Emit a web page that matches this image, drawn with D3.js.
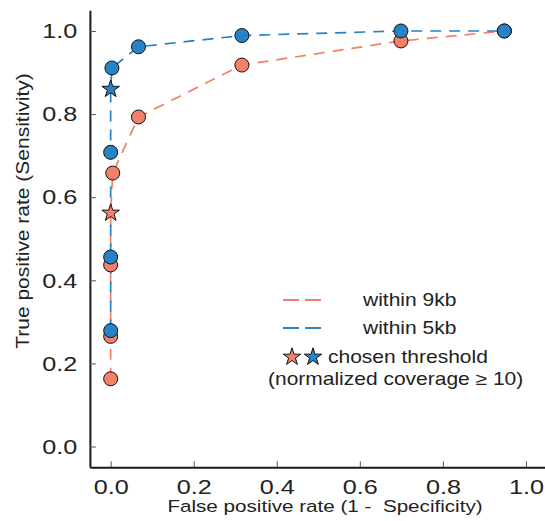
<!DOCTYPE html>
<html>
<head>
  <meta charset="utf-8">
  <title>ROC curves</title>
  <script src="https://d3js.org/d3.v7.min.js"></script>
  <style>
    body { margin: 0; background: #fff; }
    text { font-family: "Liberation Sans", Arial, sans-serif; fill: #222; }
  </style>
</head>
<body>
  <div id="chart"></div>
  <script>
// ROC points
const fpr9kb = [0, 0, 0, 0, 0.005, 0.067, 0.316, 0.699, 0.948];
const tpr9kb = [0.163, 0.265, 0.437, 0.562, 0.658, 0.793, 0.918, 0.976, 1.0];
const fpr5kb = [0, 0, 0, 0, 0.003, 0.067, 0.316, 0.699, 0.948];
const tpr5kb = [0.279, 0.456, 0.708, 0.860, 0.911, 0.962, 0.989, 1.0, 1.0];
// index of the chosen threshold in each series (drawn as a star)
const chosen9kb = 3;
const chosen5kb = 3;

const ticks = [0, 0.2, 0.4, 0.6, 0.8, 1.0];
const legendLabels = ["within 9kb", "within 5kb"];
const starLabel = ["chosen threshold", "(normalized coverage \u2265 10)"];

const red = "#f47f6b";
const blue = "#2782c6";

const width = 545, height = 521;

const x = d3.scaleLinear().domain([-0.05, 1.05]).range([89.9, 546.7]);
const y = d3.scaleLinear().domain([-0.05, 1.05]).range([467.3, 10.2]);

const svg = d3.select("#chart").append("svg")
  .attr("width", width)
  .attr("height", height);

// axes, ticks pointing inward
const xAxis = svg.append("g")
  .attr("transform", `translate(0,${y(-0.05)})`)
  .call(d3.axisBottom(x).tickValues(ticks).tickFormat(d3.format(".1f"))
    .tickSizeInner(-6).tickSizeOuter(0).tickPadding(12));

const yAxis = svg.append("g")
  .attr("transform", `translate(${x(-0.05)},0)`)
  .call(d3.axisLeft(y).tickValues(ticks).tickFormat(d3.format(".1f"))
    .tickSizeInner(-6).tickSizeOuter(0).tickPadding(10.5));

[xAxis, yAxis].forEach(g => {
  g.select(".domain").attr("stroke", "#1a1a1a").attr("stroke-width", 2);
  g.selectAll(".tick line").attr("stroke", "#555").attr("stroke-width", 1);
  g.selectAll(".tick text")
    .attr("font-size", 21)
    .attr("font-family", null)
    .attr("fill", "#222")
    .attr("transform", "scale(1.2,1)");
});

// axis titles
svg.append("text")
  .attr("transform", "translate(325,511.5) scale(1.2,1)")
  .attr("text-anchor", "middle")
  .attr("font-size", 17.2)
  .style("white-space", "pre")
  .text("False positive rate (1 -  Specificity)");

svg.append("text")
  .attr("transform", "translate(28.5,211) rotate(-90) scale(1.2,1)")
  .attr("text-anchor", "middle")
  .attr("font-size", 17.5)
  .text("True positive rate (Sensitivity)");

const series = [
  { fpr: fpr9kb, tpr: tpr9kb, chosen: chosen9kb, color: red },
  { fpr: fpr5kb, tpr: tpr5kb, chosen: chosen5kb, color: blue }
];

const line = d3.line().x(d => x(d[0])).y(d => y(d[1]));
const star = d3.symbol().type(d3.symbolStar).size(95);

// dashed curves first
series.forEach(s => {
  const pts = s.fpr.map((f, i) => [f, s.tpr[i]]);
  svg.append("path")
    .datum(pts)
    .attr("d", line)
    .attr("fill", "none")
    .attr("stroke", s.color)
    .attr("stroke-width", 1.7)
    .attr("stroke-dasharray", "11,8");
});

// markers
series.forEach(s => {
  const pts = s.fpr.map((f, i) => ({ f, t: s.tpr[i], i }));
  svg.append("g").selectAll("circle")
    .data(pts.filter(d => d.i !== s.chosen))
    .join("circle")
    .attr("cx", d => x(d.f))
    .attr("cy", d => y(d.t))
    .attr("r", 7)
    .attr("fill", s.color)
    .attr("stroke", "#111")
    .attr("stroke-width", 1);
});

series.forEach(s => {
  svg.append("path")
    .attr("d", star)
    .attr("transform", `translate(${x(s.fpr[s.chosen])},${y(s.tpr[s.chosen])})`)
    .attr("fill", s.color)
    .attr("stroke", "#111")
    .attr("stroke-width", 1);
});

// legend
const legend = svg.append("g");
series.forEach((s, i) => {
  const ly = 300 + i * 28;
  legend.append("line")
    .attr("x1", 283).attr("x2", 321)
    .attr("y1", ly).attr("y2", ly)
    .attr("stroke", s.color)
    .attr("stroke-width", 2.2)
    .attr("stroke-dasharray", "16,6");
  legend.append("text")
    .attr("transform", `translate(363,${ly}) scale(1.2,1)`)
    .attr("dy", "0.35em")
    .attr("font-size", 17.5)
    .text(legendLabels[i]);
});

series.forEach((s, i) => {
  legend.append("path")
    .attr("d", star)
    .attr("transform", `translate(${292 + i * 21},357)`)
    .attr("fill", s.color)
    .attr("stroke", "#111")
    .attr("stroke-width", 1);
});

legend.append("text")
  .attr("transform", "translate(328,357) scale(1.2,1)")
  .attr("dy", "0.35em")
  .attr("font-size", 17.5)
  .text(starLabel[0]);

legend.append("text")
  .attr("transform", "translate(268,379) scale(1.2,1)")
  .attr("dy", "0.35em")
  .attr("font-size", 17.5)
  .text(starLabel[1]);
  </script>
</body>
</html>
